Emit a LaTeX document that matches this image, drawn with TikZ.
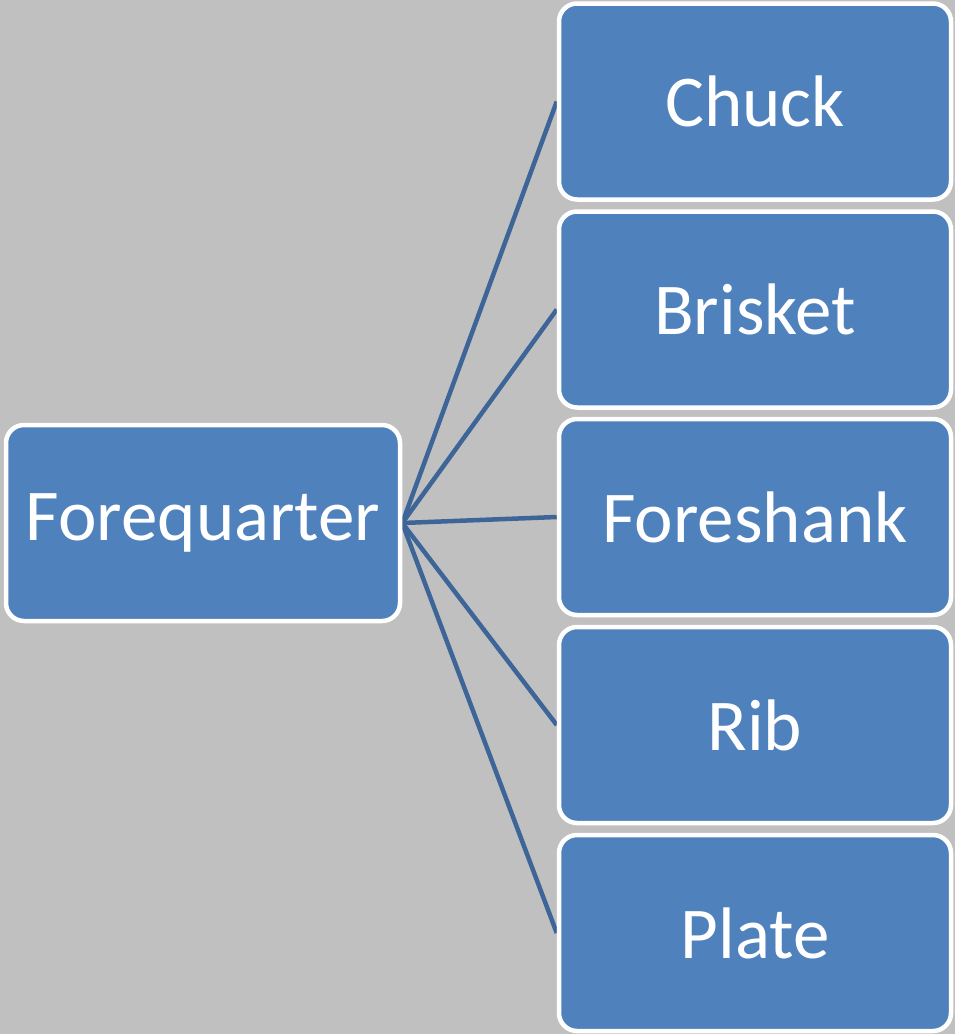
\documentclass[tikz,border=0pt]{standalone}
\usepackage{fontspec}
\setmainfont{Carlito}
\usetikzlibrary{backgrounds}
\definecolor{pagegray}{HTML}{C0C0C0}
\definecolor{boxblue}{HTML}{4F81BD}
\definecolor{linkblue}{HTML}{3D6598}
\tikzset{
  cutbox/.style={draw=white, line width=4.5pt, fill=boxblue, rounded corners=18pt,
    text=white, inner sep=0pt, minimum height=196pt,
    font=\fontsize{73}{80}\selectfont},
  link/.style={draw=linkblue, line width=4.5pt}
}
\begin{document}
\begin{tikzpicture}[x=1pt, y=-1pt]
  \useasboundingbox (0,0) rectangle (955,1034);

  \node[cutbox, minimum width=394pt] (fq) at (203,523) {Forequarter};
  \node[cutbox, minimum width=392pt] (chuck)    at (755,101.5) {Chuck};
  \node[cutbox, minimum width=392pt] (brisket)  at (755,309.5) {Brisket};
  \node[cutbox, minimum width=392pt] (shank)    at (755,517)   {Foreshank};
  \node[cutbox, minimum width=392pt] (rib)      at (755,725)   {Rib};
  \node[cutbox, minimum width=392pt] (plate)    at (755,933)   {Plate};

  \begin{scope}[on background layer]
    \fill[pagegray] (0,0) rectangle (955,1034);
    \foreach \t in {chuck,brisket,shank,rib,plate}
      \draw[link] (fq.east) -- (\t.west);
  \end{scope}
\end{tikzpicture}
\end{document}
